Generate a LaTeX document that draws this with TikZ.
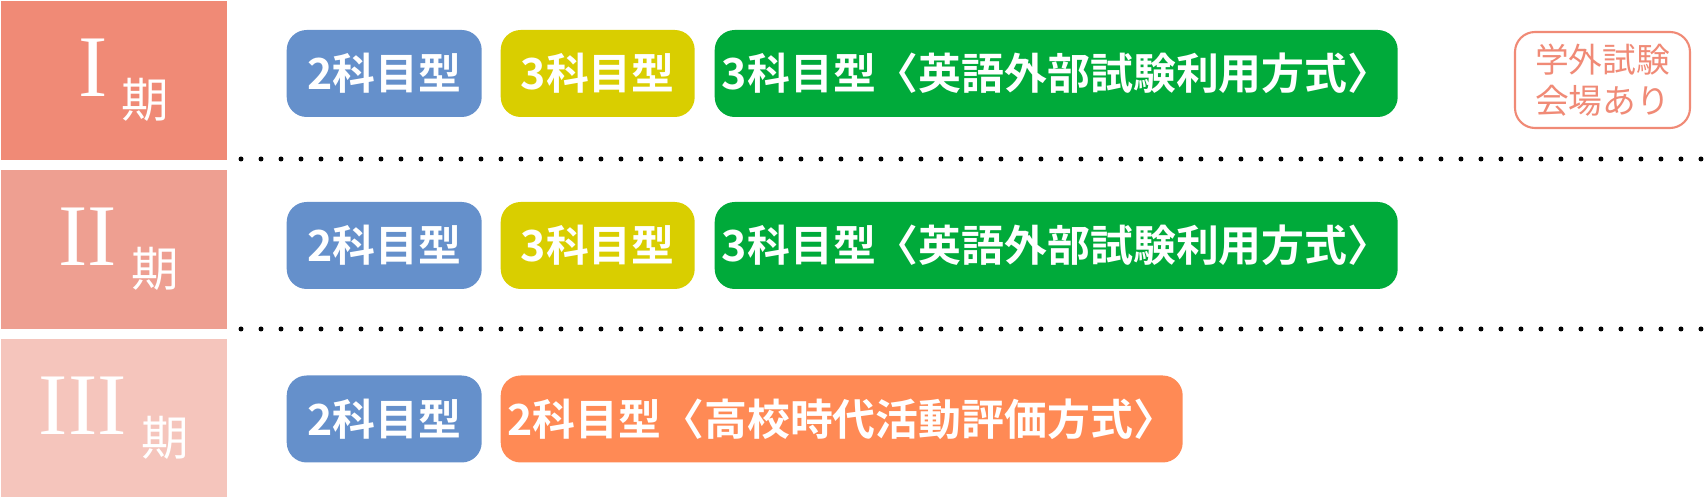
\documentclass[tikz,border=0pt]{standalone}
\usepackage{fontspec}
\setmainfont{Liberation Serif}
\newfontfamily\jpfont{Noto Sans CJK JP}
\newfontfamily\jpbold{Noto Sans CJK JP Bold}
\definecolor{termA}{HTML}{F08A76}
\definecolor{termB}{HTML}{EE9F91}
\definecolor{termC}{HTML}{F5C5BC}
\definecolor{pillblue}{HTML}{6590CB}
\definecolor{pillyellow}{HTML}{D9CE00}
\definecolor{pillgreen}{HTML}{00AA3A}
\definecolor{pillorange}{HTML}{FF8A55}
\tikzset{
  term/.style={fill=#1,draw=none,minimum width=2.26cm,minimum height=1.59cm,inner sep=0pt,anchor=north west},
  pill/.style={fill=#1,draw=none,rounded corners=0.2cm,minimum height=0.87cm,inner sep=0pt,
    text=white,font=\jpbold\fontsize{12.2pt}{14pt}\selectfont,anchor=west},
  termlabel/.style={text=white,inner sep=0pt}
}
\newcommand{\termtext}[1]{\fontsize{25pt}{25pt}\selectfont #1\,\raisebox{-0.5ex}{\jpfont\fontsize{13.5pt}{14pt}\selectfont 期}}
\begin{document}
\begin{tikzpicture}
\useasboundingbox (0,0) rectangle (17.05,-4.97);
% period bars
\node[term=termA] (t1) at (0,0) {};
\node[term=termB] (t2) at (0,-1.69) {};
\node[term=termC] (t3) at (0,-3.38) {};
\node[termlabel] at ([xshift=0.1cm]t1.center) {\termtext{I}};
\node[termlabel] at ([xshift=0.05cm]t2.center) {\termtext{II}};
\node[termlabel] at ([xshift=0cm]t3.center) {\termtext{III}};
% dotted separators
\foreach \y in {-1.59,-3.29}
  \foreach \i in {0,...,73}
    \fill (2.41+0.2*\i,\y) circle (0.025);
% row I
\node[pill=pillblue,minimum width=1.95cm] (a1) at (2.86,-0.735) {2科目型};
\node[pill=pillyellow,minimum width=1.94cm] (b1) at (5.00,-0.735) {3科目型};
\node[pill=pillgreen,minimum width=6.83cm] (c1) at (7.14,-0.735) {3科目型〈英語外部試験利用方式〉};
\node[draw=termA,line width=0.6pt,fill=white,rounded corners=0.2cm,minimum width=1.75cm,
  minimum height=0.96cm,inner sep=0pt,align=center,text=termA,
  font=\jpfont\fontsize{9.6pt}{11.5pt}\selectfont] (s1) at (16.025,-0.8) {学外試験\\会場あり};
% row II
\node[pill=pillblue,minimum width=1.95cm] (a2) at (2.86,-2.455) {2科目型};
\node[pill=pillyellow,minimum width=1.94cm] (b2) at (5.00,-2.455) {3科目型};
\node[pill=pillgreen,minimum width=6.83cm] (c2) at (7.14,-2.455) {3科目型〈英語外部試験利用方式〉};
% row III
\node[pill=pillblue,minimum width=1.95cm] (a3) at (2.86,-4.19) {2科目型};
\node[pill=pillorange,minimum width=6.82cm] (b3) at (5.00,-4.19) {2科目型〈高校時代活動評価方式〉};
\end{tikzpicture}
\end{document}
